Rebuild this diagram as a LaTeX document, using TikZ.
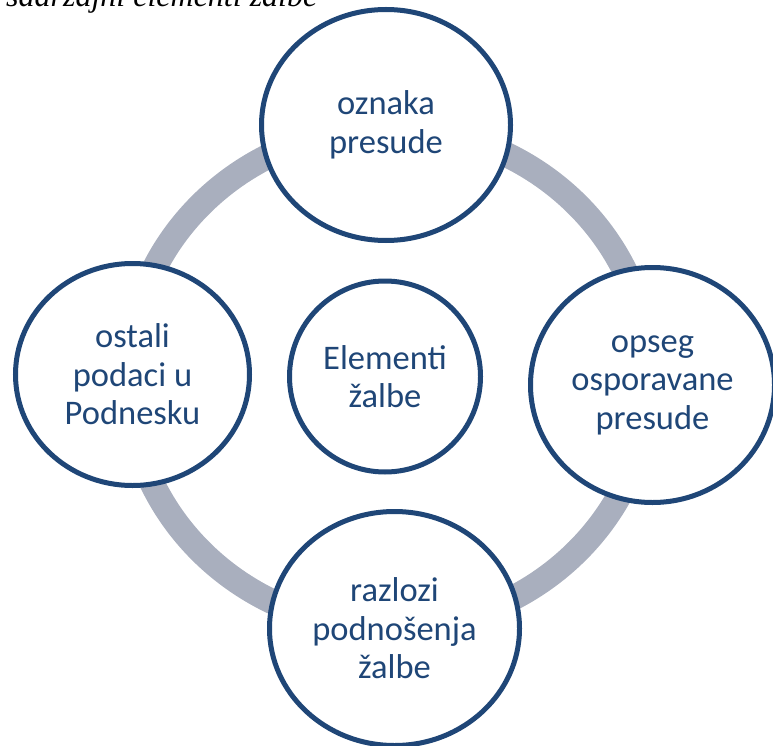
\documentclass[tikz,border=0pt]{standalone}
\usepackage{fontspec}
\setmainfont{Carlito}
\newfontfamily\titlefont{Liberation Serif}
\usetikzlibrary{shapes.geometric}
\definecolor{navy}{HTML}{1F4677}
\definecolor{ringgrey}{HTML}{A9AFBE}
\begin{document}
\begin{tikzpicture}[x=1pt,y=-1pt,
  bubble/.style={ellipse, draw=navy, line width=5pt, fill=white, inner sep=0pt,
    text=navy, align=center, font=\fontsize{34.5}{38.5}\selectfont},
  ring/.style={draw=ringgrey, line width=25pt}]
\useasboundingbox (0,0) rectangle (773,746);
\clip (0,0) rectangle (773,746);
\node[anchor=base west, inner sep=0pt, font=\titlefont\itshape\fontsize{32}{36}\selectfont] (title) at (6,7) {sadržajni elementi žalbe};
\draw[ring] (389,378) ellipse [x radius=261pt, y radius=250pt];
\node[bubble, minimum width=249pt, minimum height=231pt] (top) at (386,125) {oznaka\\presude};
\node[bubble, minimum width=234pt, minimum height=222pt] (left) at (132.5,374.5) {ostali\\podaci u\\Podnesku};
\node[bubble, minimum width=244pt, minimum height=235pt] (right) at (652.5,385) {opseg\\osporavane\\presude};
\node[bubble, minimum width=250pt, minimum height=234pt] (bottom) at (394.5,628.5) {razlozi\\podnošenja\\žalbe};
\node[bubble, minimum width=191pt, minimum height=191pt] (center) at (385,376.5) {Elementi\\žalbe};
\end{tikzpicture}
\end{document}
